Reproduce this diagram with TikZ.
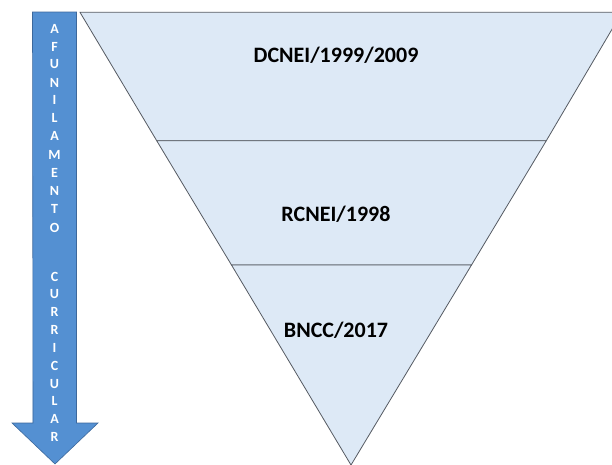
\documentclass[tikz,border=0pt]{standalone}
\usepackage{fontspec}
\setmainfont{Carlito}
\definecolor{funnelfill}{RGB}{221,233,246}
\definecolor{funnelline}{RGB}{85,90,98}
\definecolor{arrowfill}{RGB}{84,144,210}
\definecolor{arrowline}{RGB}{60,104,156}
\tikzset{
  seg/.style={fill=funnelfill, draw=funnelline, line width=0.8pt, line join=miter},
  label/.style={font=\fontsize{22}{26}\selectfont\bfseries, text=black, inner sep=0pt},
  letter/.style={font=\fontsize{14}{16}\selectfont\bfseries, text=white, inner sep=0pt}
}
\begin{document}
\begin{tikzpicture}[x=1pt,y=-1pt]
\useasboundingbox (0,0) rectangle (612,464);
\fill[white] (0,0) rectangle (612,464);
\begin{scope}
\clip (0,0) rectangle (612,464);
% funnel segments
\coordinate (tl) at (80,12.3);
\coordinate (tr) at (622,12.3);
\coordinate (l1) at (156.7,140.7);
\coordinate (r1) at (546.3,140.7);
\coordinate (l2) at (231.5,265);
\coordinate (r2) at (471.5,265);
\coordinate (apex) at (351,465);
\draw[seg] (tl) -- (tr) -- (r1) -- (l1) -- cycle;
\draw[seg] (l1) -- (r1) -- (r2) -- (l2) -- cycle;
\draw[seg] (l2) -- (r2) -- (apex) -- cycle;
\end{scope}
\node[label] (d1) at (336,55) {DCNEI/1999/2009};
\node[label] (d2) at (336,214) {RCNEI/1998};
\node[label] (d3) at (336,330) {BNCC/2017};
% arrow
\draw[fill=arrowfill, draw=arrowline, line width=0.6pt, line join=miter]
  (32.5,12) -- (76.5,12) -- (76.5,423) -- (98,423) -- (55,464) -- (12,423) -- (33,423) -- cycle;
\foreach \ch/\yy [count=\i] in {A/29, F/47, U/64, N/83, I/100, L/118, A/136, M/155, E/173, N/191, T/209, O/228,
  C/277, U/294, R/312, R/330, I/348, C/366, U/384, L/401, A/419, R/437} {
  \node[letter] (let\i) at (54.5,\yy) {\ch};
}
\end{tikzpicture}
\end{document}
